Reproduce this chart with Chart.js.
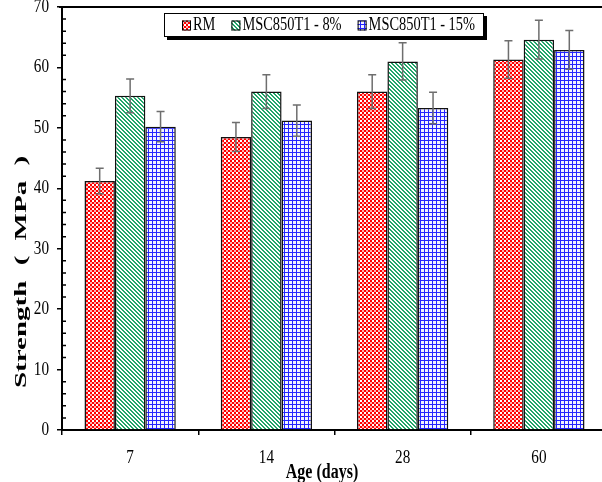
<!DOCTYPE html>
<html><head><meta charset="utf-8">
<script src="https://cdn.jsdelivr.net/npm/chart.js@4.4.1/dist/chart.umd.min.js"></script>
<style>
html,body{margin:0;padding:0;overflow:hidden;background:#fff;width:602px;height:482px}
#wrap{position:absolute;left:0;top:0;width:610px;height:490px}
</style>
</head><body><div id="wrap"><canvas id="c" width="610" height="490"></canvas></div>
<script>
// ---------- data ----------
const categories = ['7', '14', '28', '60'];
const seriesNames = ['RM', 'MSC850T1 - 8%', 'MSC850T1 - 15%'];
const rmValues    = [41.2, 48.5, 56.0, 61.3];
const msc8Values  = [55.3, 56.0, 61.0, 64.6];
const msc15Values = [50.2, 51.2, 53.3, 62.9];
const rmErrors    = [2.1, 2.4, 2.8, 3.1];
const msc8Errors  = [2.8, 2.8, 3.1, 3.2];
const msc15Errors = [2.5, 2.6, 2.6, 3.2];
const yMin = 0, yMax = 70, yMajorStep = 10, yMinorStep = 2;
const xTitle = 'Age (days)';
const yTitle = 'Strength ( MPa )';

// ---------- styling ----------
const SERIF = '"Liberation Serif", "Times New Roman", serif';
const SQUEEZE = 0.8;

const canvas = document.getElementById('c');
const ctx = canvas.getContext('2d');
// the reference text is horizontally condensed: draw text narrower
const rawFillText = ctx.fillText.bind(ctx);
ctx.fillText = function (text, x, y, maxWidth) {
  this.save();
  this.translate(x, y);
  this.scale(SQUEEZE, 1);
  if (maxWidth === undefined || maxWidth === null) rawFillText(text, 0, 0);
  else rawFillText(text, 0, 0, maxWidth / SQUEEZE);
  this.restore();
};

function makePattern(kind) {
  const t = document.createElement('canvas');
  t.width = 4; t.height = 4;
  const g = t.getContext('2d');
  if (kind === 'check') {
    g.fillStyle = '#ff0000'; g.fillRect(0, 0, 4, 4);
    g.fillStyle = '#ffffff'; g.fillRect(0, 0, 2, 2);
    g.fillStyle = '#ffb0b0'; g.fillRect(2, 2, 2, 2);
  } else if (kind === 'diag') {
    g.fillStyle = '#ffffff'; g.fillRect(0, 0, 4, 4);
    g.fillStyle = '#22a66a';
    for (let i = 0; i < 4; i++) { g.fillRect(i, i, 1, 1); g.fillRect((i + 1) % 4, i, 1, 1); }
  } else {
    g.fillStyle = '#f2f2ff'; g.fillRect(0, 0, 4, 4);
    g.fillStyle = '#2424ff'; g.fillRect(0, 0, 4, 1); g.fillRect(0, 0, 1, 4);
  }
  return ctx.createPattern(t, 'repeat');
}
const fills = [makePattern('check'), makePattern('diag'), makePattern('grid')];
const seriesValues = [rmValues, msc8Values, msc15Values];
const seriesErrors = [rmErrors, msc8Errors, msc15Errors];

const errorBarsPlugin = {
  id: 'errorBars',
  afterDatasetsDraw(chart) {
    const c = chart.ctx, y = chart.scales.y;
    c.save();
    c.strokeStyle = '#6e6e6e';
    c.lineWidth = 1.5;
    chart.data.datasets.forEach((ds, i) => {
      const meta = chart.getDatasetMeta(i);
      meta.data.forEach((bar, j) => {
        const v = ds.data[j], e = ds.errors[j];
        const yt = y.getPixelForValue(v + e), yb = y.getPixelForValue(v - e);
        c.beginPath();
        c.moveTo(bar.x, yt); c.lineTo(bar.x, yb);
        c.moveTo(bar.x - 4, yt); c.lineTo(bar.x + 4, yt);
        c.moveTo(bar.x - 4, yb); c.lineTo(bar.x + 4, yb);
        c.stroke();
      });
    });
    c.restore();
  }
};

const framePlugin = {
  id: 'frame',
  afterDraw(chart) {
    const c = chart.ctx, a = chart.chartArea, y = chart.scales.y;
    c.save();
    c.strokeStyle = '#000';
    c.lineWidth = 2;
    c.beginPath();
    c.moveTo(a.left - 3, a.top); c.lineTo(a.right, a.top); c.lineTo(a.right, a.bottom);
    c.stroke();
    // inward minor ticks
    c.lineWidth = 1.5;
    c.beginPath();
    y.ticks.forEach(t => {
      if (t.value % yMajorStep !== 0) {
        const py = y.getPixelForValue(t.value);
        c.moveTo(a.left, py); c.lineTo(a.left + 4, py);
      }
    });
    c.stroke();
    c.restore();
  }
};

const titlesPlugin = {
  id: 'axisTitles',
  afterDraw(chart) {
    const c = chart.ctx, a = chart.chartArea;
    c.save();
    c.fillStyle = '#000';
    c.textAlign = 'center';
    c.textBaseline = 'middle';
    // x title
    c.font = 'bold 20px ' + SERIF;
    c.save();
    c.translate(a.left + 260, a.bottom + 43);
    c.scale(SQUEEZE, 1);
    rawFillText(xTitle, 0, 0);
    c.restore();
    // y title (rotated, condensed across the glyph height)
    c.font = 'bold 29px ' + SERIF;
    c.save();
    if ('wordSpacing' in c) c.wordSpacing = '8px';
    c.translate(a.left - 40, a.top + 265);
    c.rotate(-Math.PI / 2);
    c.scale(1, 0.55);
    rawFillText(yTitle, 0, 0);
    c.restore();
    c.restore();
  }
};

const legendPlugin = {
  id: 'boxLegend',
  afterDraw(chart) {
    const c = chart.ctx;
    const bx = 164, by = 13, bw = 320, bh = 24;
    c.save();
    c.fillStyle = '#000';
    c.fillRect(bx + 3, by + bh, bw, 3);
    c.fillRect(bx + bw, by + 3, 3, bh);
    c.fillStyle = '#fff';
    c.fillRect(bx, by, bw, bh);
    c.strokeStyle = '#000'; c.lineWidth = 1;
    c.strokeRect(bx + 0.5, by + 0.5, bw - 1, bh - 1);
    c.font = '18px ' + SERIF;
    c.textBaseline = 'middle';
    c.textAlign = 'left';
    let x = 182;
    const cy = by + bh / 2 + 0.5;
    chart.data.datasets.forEach((ds, i) => {
      c.fillStyle = fills[i];
      c.fillRect(x, cy - 5, 9, 10);
      c.strokeStyle = '#000'; c.lineWidth = 1;
      c.strokeRect(x + 0.5, cy - 5 + 0.5, 8, 9);
      c.fillStyle = '#000';
      c.fillText(ds.label, x + 11, cy);
      x += 11 + c.measureText(ds.label).width * SQUEEZE + 16;
    });
    c.restore();
  }
};

new Chart(ctx, {
  type: 'bar',
  data: {
    labels: categories,
    datasets: seriesNames.map((name, i) => ({
      label: name,
      data: seriesValues[i],
      errors: seriesErrors[i],
      backgroundColor: fills[i],
      borderColor: '#111',
      borderWidth: 1.5
    }))
  },
  options: {
    responsive: false,
    animation: false,
    devicePixelRatio: 1,
    layout: { padding: { top: 7, right: 3, left: 0, bottom: 0 } },
    datasets: { bar: { categoryPercentage: 0.67, barPercentage: 1.0 } },
    plugins: { legend: { display: false }, tooltip: { enabled: false } },
    scales: {
      x: {
        grid: { display: true, drawOnChartArea: false, offset: true, tickLength: 5, color: '#000', tickColor: '#000', lineWidth: 1.5 },
        border: { color: '#000', width: 2 },
        ticks: { font: { family: SERIF, size: 19 }, color: '#000', padding: 12 },
        title: { display: false, text: xTitle },
        afterFit(s) { s.height = 60; s.paddingLeft = 0; s.paddingRight = 0; }
      },
      y: {
        min: yMin, max: yMax,
        grid: {
          drawOnChartArea: false, tickLength: 5, lineWidth: 1.5,
          tickColor: (c) => (c.tick && c.tick.value % yMajorStep === 0) ? '#000' : 'rgba(0,0,0,0)'
        },
        border: { color: '#000', width: 2 },
        ticks: {
          stepSize: yMinorStep, autoSkip: false, padding: 8, color: '#000',
          font: { family: SERIF, size: 19 },
          callback: (v) => (v % yMajorStep === 0 ? v : '')
        },
        title: { display: false, text: yTitle },
        afterFit(s) { s.width = 62; s.paddingTop = 0; s.paddingBottom = 0; }
      }
    }
  },
  plugins: [errorBarsPlugin, framePlugin, titlesPlugin, legendPlugin]
});
</script></body></html>
